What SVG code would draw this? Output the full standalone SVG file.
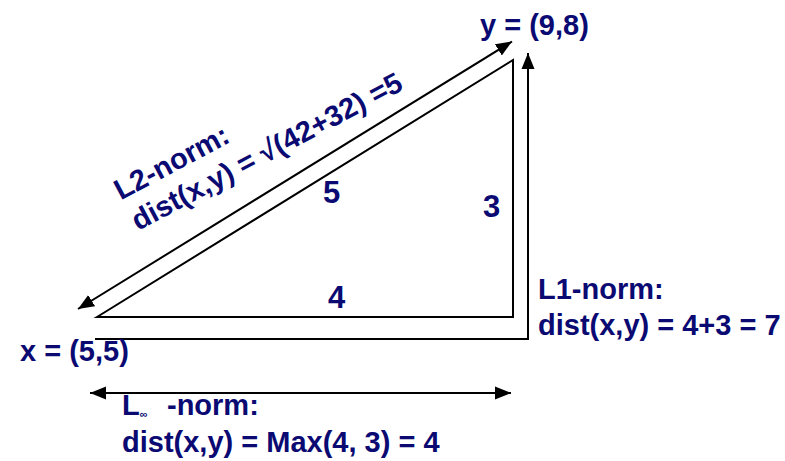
<svg xmlns="http://www.w3.org/2000/svg" width="785" height="461" viewBox="0 0 785 461">
<defs>
<style>
.t{font-family:"Liberation Sans",Arial,sans-serif;font-weight:bold;font-size:29px;fill:#0a0a72}
.n{font-size:31px}
.ln{stroke:#000;stroke-width:2;fill:none}
</style>
<marker id="ah" markerUnits="userSpaceOnUse" markerWidth="18" markerHeight="14" refX="16" refY="6.5" orient="auto-start-reverse" viewBox="0 0 18 13">
<path d="M0,0 L16,6.5 L0,13 z" fill="#000"/>
</marker>
</defs>
<rect width="785" height="461" fill="#fff"/>
<g id="triangle">
<path class="ln" d="M97,317 L513,60 L513,317 Z"/>
</g>
<g id="connectors">
<line id="l2" class="ln" x1="78" y1="309" x2="512" y2="41.5" marker-start="url(#ah)" marker-end="url(#ah)"/>
<path id="l1" class="ln" d="M95,339 H528 V53" marker-end="url(#ah)"/>
<line id="linf" class="ln" x1="90" y1="393" x2="511" y2="393" marker-start="url(#ah)" marker-end="url(#ah)"/>
</g>
<g id="point-y"><text class="t" x="480" y="35">y = (9,8)</text></g>
<g id="point-x"><text class="t" x="20" y="361">x = (5,5)</text></g>
<g id="side-labels">
<text class="t n" x="323" y="203">5</text>
<text class="t n" x="483" y="217">3</text>
<text class="t n" x="328" y="308">4</text>
</g>
<g id="l2-label" transform="translate(138,231) rotate(-28)">
<text class="t" x="-1" y="-35">L2-norm:</text>
<text class="t" x="0" y="0">dist(x,y) = √(42+32) =5</text>
</g>
<g id="l1-label">
<text class="t" x="538" y="299">L1-norm:</text>
<text class="t" x="538" y="335">dist(x,y) = 4+3 = 7</text>
</g>
<g id="linf-label">
<text class="t" x="122" y="415">L<tspan font-size="11" dy="3">∞</tspan><tspan x="167" dy="-3">-norm:</tspan></text>
<text class="t" x="122" y="452">dist(x,y) = Max(4, 3) = 4</text>
</g>
</svg>
